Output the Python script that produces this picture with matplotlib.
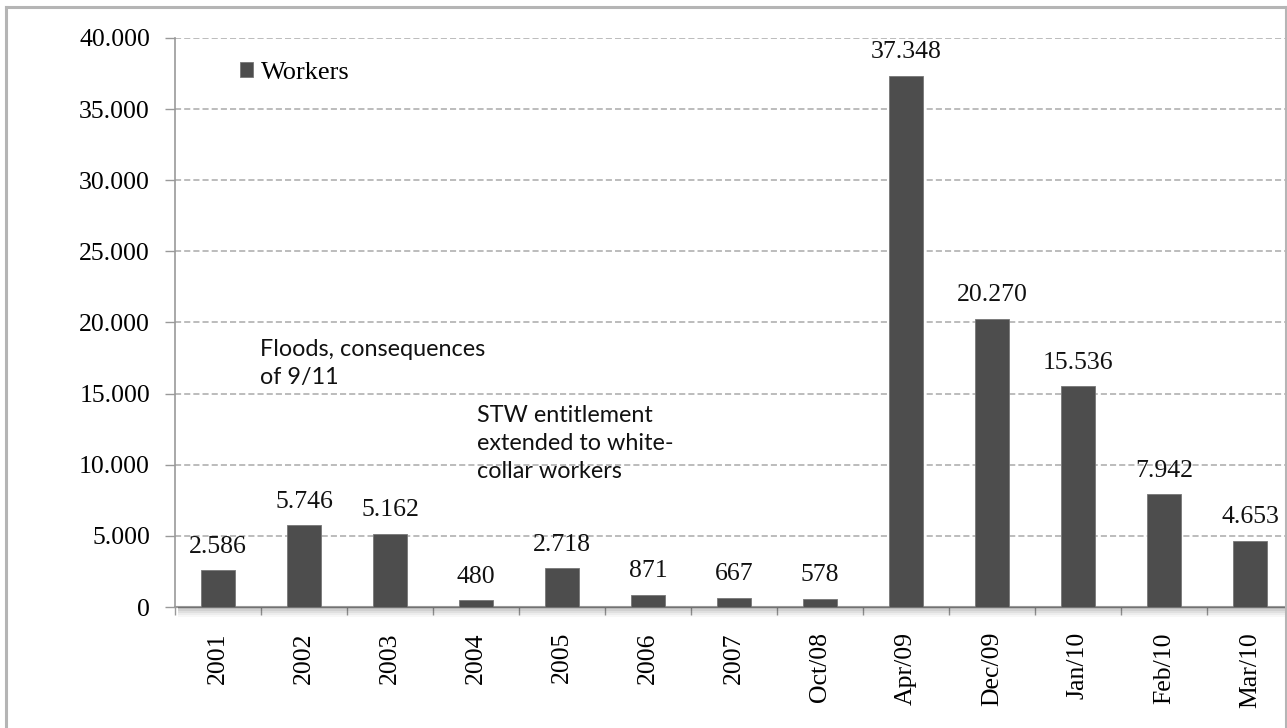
import matplotlib
matplotlib.use("Agg")
import matplotlib.pyplot as plt
from matplotlib.patches import Rectangle
from matplotlib.lines import Line2D
import numpy as np

# data
categories = ["2001", "2002", "2003", "2004", "2005", "2006", "2007",
              "Oct/08", "Apr/09", "Dec/09", "Jan/10", "Feb/10", "Mar/10"]
workers = [2586, 5746, 5162, 480, 2718, 871, 667, 578,
           37348, 20270, 15536, 7942, 4653]
y_ticks = [0, 5000, 10000, 15000, 20000, 25000, 30000, 35000, 40000]

serif = "Liberation Serif"
sans = "Lato"
bar_color = "#4d4d4d"
grid_color = "#aaaaaa"


def dotted_thousands(v):
    return f"{v:,}".replace(",", ".")


fig = plt.figure(figsize=(12.87, 7.28), dpi=100)
W, H = 1287, 728
ax = fig.add_axes([175 / W, 1 - 607 / H, 1118 / W, (607 - 38) / H])

x = np.arange(len(categories))
bars = ax.bar(x, workers, width=0.39, color=bar_color, edgecolor="#777777",
              linewidth=0.6, label="Workers", zorder=3)

# value labels above each bar
for xi, v in zip(x, workers):
    ax.annotate(dotted_thousands(v), (xi, v), xytext=(0, 9), textcoords="offset points",
                ha="center", va="bottom", fontsize=18.5, family=serif, color="#111111")

ax.set_xlim(-0.5, len(categories) - 0.5)
ax.set_ylim(0, 40000)
ax.set_yticks(y_ticks)
ax.set_yticklabels([dotted_thousands(t) for t in y_ticks], fontsize=18.5, family=serif)
ax.yaxis.grid(True, linestyle=(0, (4, 2)), color=grid_color, linewidth=1.1, zorder=0)

# category labels at centers, tick marks at category boundaries
ax.set_xticks(x)
ax.set_xticklabels(categories, rotation=90, fontsize=18.5, family=serif)
ax.tick_params(axis="x", length=0, pad=18)
ax.set_xticks(np.arange(-0.5, len(categories), 1), minor=True)
ax.tick_params(axis="x", which="minor", length=6, color="#999999", width=1)
ax.tick_params(axis="y", length=7, color="#999999", width=1, pad=11)

for s in ["top", "right"]:
    ax.spines[s].set_visible(False)
ax.spines["left"].set_color("#999999")
ax.spines["bottom"].set_color("#999999")
ax.spines["left"].set_linewidth(1.2)
ax.spines["bottom"].set_linewidth(1.5)

# legend
ax.legend(loc="upper left", bbox_to_anchor=(0.058, 0.958), frameon=False,
          handlelength=0.5, handleheight=0.5, handletextpad=0.3, borderpad=0,
          borderaxespad=0, prop={"family": serif, "size": 19})

# annotations
ax.text(0.49, 18850, "Floods, consequences\nof 9/11", ha="left", va="top",
        fontsize=16.8, family=sans, color="#111111", linespacing=1.42)
ax.text(3.01, 14200, "STW entitlement\nextended to white-\ncollar workers", ha="left", va="top",
        fontsize=16.8, family=sans, color="#111111", linespacing=1.42)

# soft shadow under the category axis
for i, a in enumerate([0.25, 0.18, 0.12, 0.07, 0.03]):
    fig.patches.append(Rectangle((178 / W, 1 - (609 + i * 2) / H), (W - 178) / W, 2 / H,
                                 transform=fig.transFigure, color="black", alpha=a,
                                 linewidth=0, zorder=0))

# outer frame
frame_kw = dict(color="#b5b5b5", linewidth=2.2, transform=fig.transFigure)
fig.lines.append(Line2D([6 / W, 6 / W], [0, 1 - 7 / H], **frame_kw))
fig.lines.append(Line2D([6 / W, 1286 / W], [1 - 7 / H, 1 - 7 / H], **frame_kw))
fig.lines.append(Line2D([1286 / W, 1286 / W], [0, 1 - 7 / H], **frame_kw))

fig.savefig("out.png", dpi=100, facecolor="white")
